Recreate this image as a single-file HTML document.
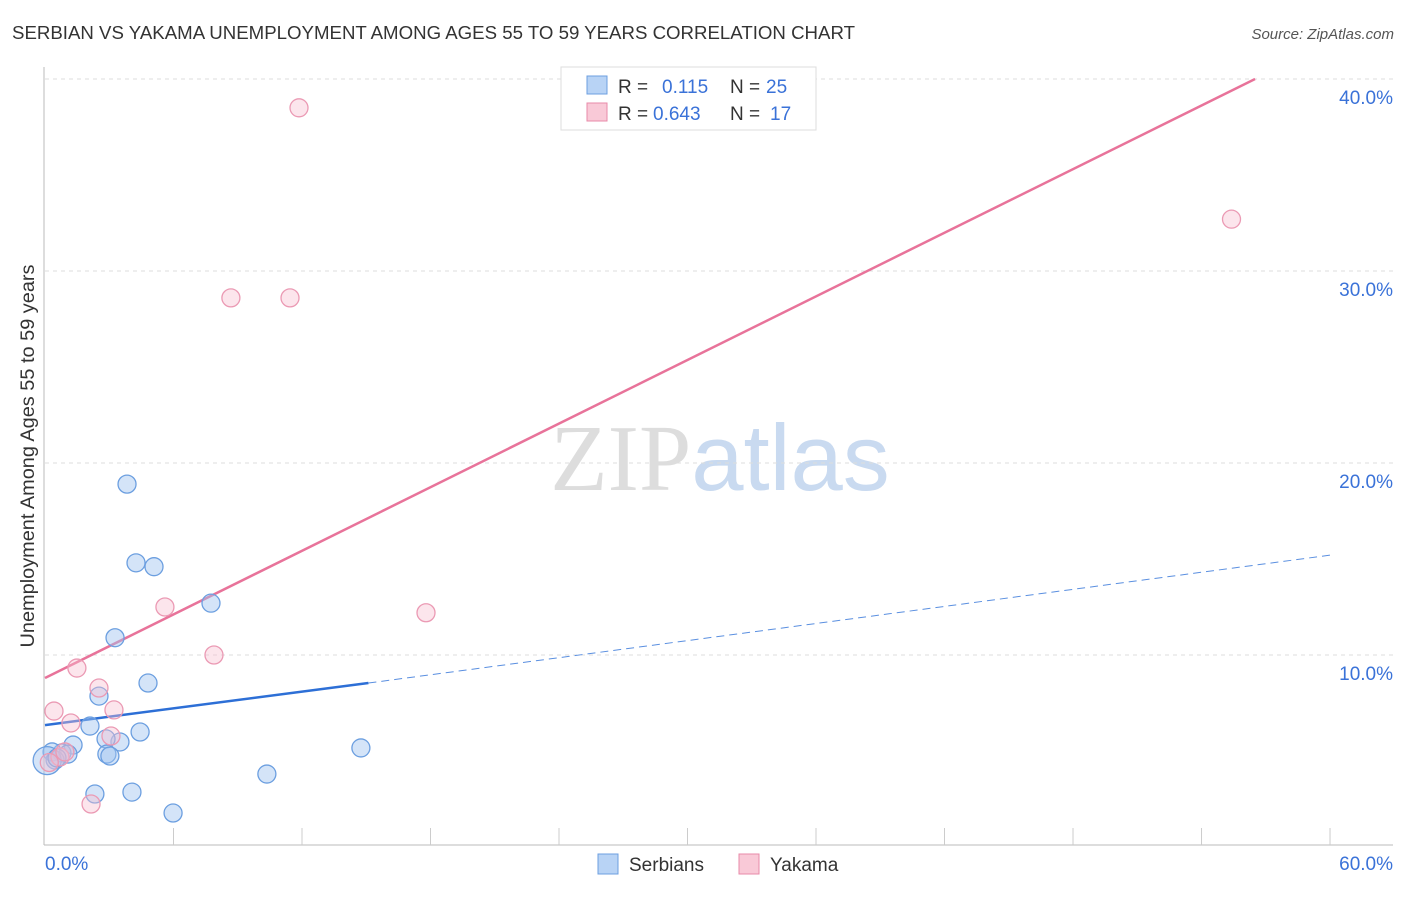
<!DOCTYPE html>
<html><head><meta charset="utf-8"><style>
body{margin:0;background:#fff;font-family:"Liberation Sans",sans-serif;}
svg text{font-family:"Liberation Sans",sans-serif;}
</style></head><body>
<svg id="chart" width="1406" height="892" xmlns="http://www.w3.org/2000/svg">
<text x="12" y="39" font-size="18.5" fill="#333" textLength="843" lengthAdjust="spacingAndGlyphs">SERBIAN VS YAKAMA UNEMPLOYMENT AMONG AGES 55 TO 59 YEARS CORRELATION CHART</text>
<text x="1394" y="39" font-size="15" fill="#555" text-anchor="end" font-style="italic">Source: ZipAtlas.com</text>
<text x="720" y="490" font-size="94" text-anchor="middle"><tspan fill="#ddd" font-family="Liberation Serif">ZIP</tspan><tspan fill="#c9daf0">atlas</tspan></text>
<text transform="translate(34,456) rotate(-90)" font-size="19" fill="#333" text-anchor="middle" textLength="383" lengthAdjust="spacingAndGlyphs">Unemployment Among Ages 55 to 59 years</text>
<g id="grid"></g><g id="axes"></g><g id="lines"></g><g id="pts"></g>
<g>
<rect x="561" y="67" width="255" height="63" fill="#fff" stroke="#ddd"/>
<rect x="587" y="76" width="20" height="18" fill="#b8d3f5" stroke="#6c9fe0"/>
<text x="618" y="93" font-size="19" fill="#333">R =</text><text x="662" y="93" font-size="19" fill="#3a72d8">0.115</text>
<text x="730" y="93" font-size="19" fill="#333">N =</text><text x="766" y="93" font-size="19" fill="#3a72d8">25</text>
<rect x="587" y="103" width="20" height="18" fill="#f9c9d7" stroke="#e88aa8"/>
<text x="618" y="120" font-size="19" fill="#333">R =</text><text x="653" y="120" font-size="19" fill="#3a72d8">0.643</text>
<text x="730" y="120" font-size="19" fill="#333">N =</text><text x="770" y="120" font-size="19" fill="#3a72d8">17</text>
</g>
<g>
<rect x="598" y="854" width="20" height="20" fill="#b8d3f5" stroke="#6c9fe0"/>
<text x="629" y="871" font-size="19" fill="#333">Serbians</text>
<rect x="739" y="854" width="20" height="20" fill="#f9c9d7" stroke="#e88aa8"/>
<text x="770" y="871" font-size="19" fill="#333">Yakama</text>
</g>
</svg>
<script>
const serbX=[3.83,4.25,5.09,7.75,3.27,4.81,2.52,2.10,4.44,3.50,2.85,1.31,0.79,0.33,1.07,2.89,3.03,0.47,14.75,10.36,2.33,4.06,5.98,0.1,0.56];
const serbY=[18.9,14.8,14.6,12.7,10.9,8.54,7.86,6.30,5.99,5.47,5.63,5.31,4.90,4.95,4.84,4.84,4.74,4.53,5.16,3.80,2.76,2.86,1.77,4.5,4.64];
const yakX=[11.86,8.68,11.44,55.4,5.60,17.79,7.89,1.49,2.52,3.22,0.42,1.21,3.08,2.15,0.70,0.93,0.2];
const yakY=[38.5,28.6,28.6,32.7,12.5,12.2,10.0,9.32,8.28,7.14,7.08,6.46,5.78,2.24,4.69,4.95,4.4];
const yTicks=[10,20,30,40];
const yTickLabels=["10.0%","20.0%","30.0%","40.0%"];
const xTicks=[6,12,18,24,30,36,42,48,54,60];
const serbTrend=[0,6.35,15.1,8.54,60,15.2];
const yakTrend=[0,8.8,56.5,40];
const NS="http://www.w3.org/2000/svg";
const X=v=>45+v*21.417, Y=v=>847-v*19.2;
function mk(p,t,a){const e=document.createElementNS(NS,t);for(const k in a)e.setAttribute(k,a[k]);document.getElementById(p).appendChild(e);return e;}
yTicks.forEach((t,i)=>{
 const g=mk('grid','line',{x1:45,x2:1393,y1:Y(t),y2:Y(t),stroke:'#ddd','stroke-dasharray':'4,4'});
 
 
 const l=mk('grid','text',{x:1393,y:Y(t)+25,'font-size':19,fill:'#3a72d8','text-anchor':'end'});l.textContent=yTickLabels[i];
 
 
});
mk('axes','line',{x1:44,x2:44,y1:67,y2:845,stroke:'#bbb'});
mk('axes','line',{x1:44,x2:1393,y1:845,y2:845,stroke:'#bbb'});
xTicks.forEach(t=>{const e=mk('axes','line',{x1:X(t),x2:X(t),y1:828,y2:845,stroke:'#ccc'});
 
 });
let a=mk('axes','text',{x:45,y:870,'font-size':19,fill:'#3a72d8'});a.textContent='0.0%';
a=mk('axes','text',{x:1393,y:870,'font-size':19,fill:'#3a72d8','text-anchor':'end'});a.textContent='60.0%';
let ln=mk('lines','line',{x1:X(yakTrend[0]),y1:Y(yakTrend[1]),x2:X(yakTrend[2]),y2:Y(yakTrend[3]),stroke:'#e8739a','stroke-width':2.5});


ln=mk('lines','line',{x1:X(serbTrend[0]),y1:Y(serbTrend[1]),x2:X(serbTrend[2]),y2:Y(serbTrend[3]),stroke:'#2d6fd6','stroke-width':2.5});


ln=mk('lines','line',{x1:X(serbTrend[2]),y1:Y(serbTrend[3]),x2:X(serbTrend[4]),y2:Y(serbTrend[5]),stroke:'#5a8fe0','stroke-width':1,'stroke-dasharray':'8,5'});


serbX.forEach((x,i)=>{const c=mk('pts','circle',{cx:X(x),cy:Y(serbY[i]),r:i==23?14:9,fill:'rgba(160,196,240,0.45)',stroke:'#6c9fe0','stroke-width':1.3});
 
 });
yakX.forEach((x,i)=>{const c=mk('pts','circle',{cx:X(x),cy:Y(yakY[i]),r:9,fill:'rgba(248,190,208,0.4)',stroke:'#eb9ab4','stroke-width':1.3});
 
 });
</script>
</body></html>
